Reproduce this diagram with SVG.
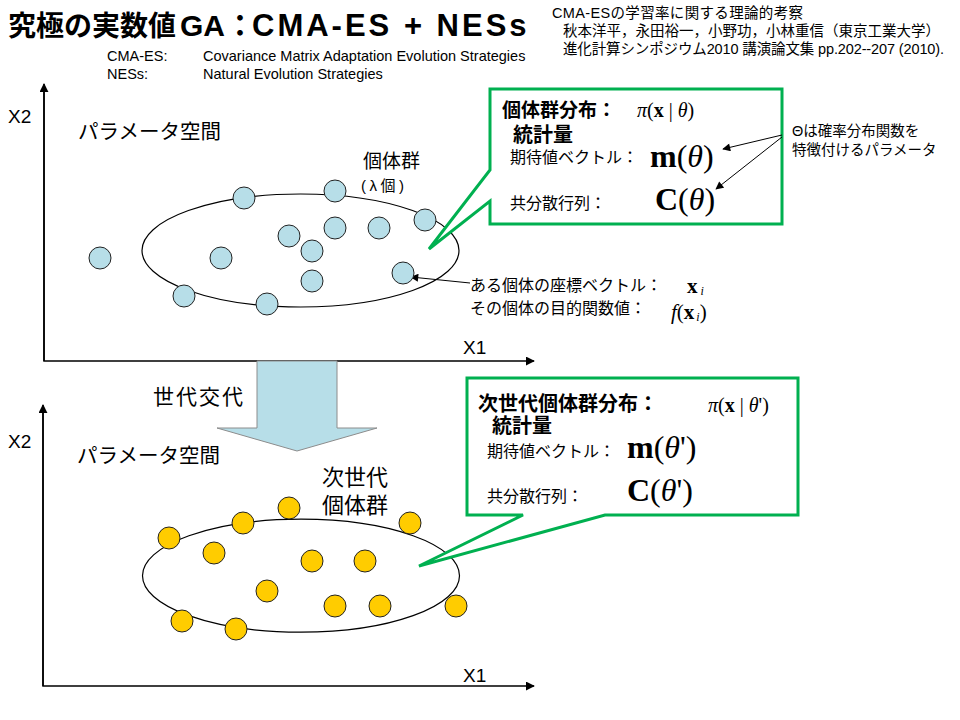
<svg xmlns="http://www.w3.org/2000/svg" width="960" height="720" viewBox="0 0 960 720">
<defs>
<style>
.jp{font-family:"Liberation Sans","Noto Sans CJK JP",sans-serif;fill:#000}
.b{font-weight:bold}
.m{font-family:"Liberation Serif",serif;fill:#000}
.ax{stroke:#000;stroke-width:1.5;fill:none}
.ind{fill:#b7dee8;stroke:#222;stroke-width:1}
.nxt{fill:#ffcc00;stroke:#222;stroke-width:1}
.ell{fill:none;stroke:#000;stroke-width:1.2}
.call{fill:#fff;stroke:#00b050;stroke-width:3;stroke-linejoin:miter}
.thin{stroke:#000;stroke-width:1;fill:none}
</style>
<marker id="ah" viewBox="0 0 10 10" refX="9" refY="5" markerWidth="9" markerHeight="9" markerUnits="userSpaceOnUse" orient="auto">
<path d="M0,0 L10,5 L0,10 Z" fill="#000"/>
</marker>
<marker id="ah2" viewBox="0 0 10 10" refX="9" refY="5" markerWidth="10" markerHeight="8" markerUnits="userSpaceOnUse" orient="auto">
<path d="M0,0 L10,5 L0,10 Z" fill="#000"/>
</marker>
</defs>
<rect width="960" height="720" fill="#fff"/>

<g id="title">
<text class="jp b" x="8" y="36" font-size="28">究極の実数値</text>
<text class="jp b" x="180" y="36" font-size="30">GA：</text>
<text class="jp b" x="252" y="36" font-size="31" letter-spacing="3">CMA-ES + NESs</text>
<text class="jp" x="107" y="61" font-size="14.5">CMA-ES:</text>
<text class="jp" x="203" y="61" font-size="14.5">Covariance Matrix Adaptation Evolution Strategies</text>
<text class="jp" x="107" y="79" font-size="14.5">NESs:</text>
<text class="jp" x="203" y="79" font-size="14.5">Natural Evolution Strategies</text>
</g>

<g id="citation">
<text class="jp" x="552" y="18" font-size="14.5" textLength="251" lengthAdjust="spacing">CMA-ESの学習率に関する理論的考察</text>
<text class="jp" x="563" y="36" font-size="14.5" textLength="377" lengthAdjust="spacing">秋本洋平，永田裕一，小野功，小林重信（東京工業大学）</text>
<text class="jp" x="563" y="54" font-size="14.5" textLength="381" lengthAdjust="spacing">進化計算シンポジウム2010 講演論文集 pp.202--207 (2010).</text>
</g>

<g id="connectors">
<polyline class="ax" points="44,88 44,361 534,361" marker-end="url(#ah)"/>
<line class="ax" x1="44" y1="361" x2="44" y2="84" marker-end="url(#ah)"/>
<polyline class="ax" points="43,409 43,686 534,686" marker-end="url(#ah)"/>
<line class="ax" x1="43" y1="686" x2="43" y2="405" marker-end="url(#ah)"/>
<line class="thin" x1="470" y1="283" x2="411" y2="277" marker-end="url(#ah2)"/>
</g>

<g id="generation-arrow">
<polygon points="257,361 337,361 337,428 377,428 297,451 217,428 257,428" fill="#b7dee8" stroke="#8c8c8c" stroke-width="1"/>
<text class="jp" x="153" y="404" font-size="21" letter-spacing="2">世代交代</text>
</g>

<g id="space-top">
<text class="jp" x="8" y="123" font-size="19">X2</text>
<text class="jp" x="463" y="354" font-size="19">X1</text>
<text class="jp" x="78" y="139" font-size="20.5">パラメータ空間</text>
<text class="jp" x="363" y="168" font-size="19">個体群</text>
<text class="jp" x="361" y="191" font-size="15" textLength="43" lengthAdjust="spacing">(λ個)</text>
<ellipse class="ell" cx="300.5" cy="250.5" rx="158.5" ry="56.5"/>
</g>

<g id="population-top">
<circle class="ind" cx="100" cy="258" r="11"/>
<circle class="ind" cx="244" cy="198" r="11"/>
<circle class="ind" cx="335" cy="191" r="11"/>
<circle class="ind" cx="289" cy="236" r="11"/>
<circle class="ind" cx="335" cy="228" r="11"/>
<circle class="ind" cx="379" cy="228" r="11"/>
<circle class="ind" cx="425" cy="220" r="11"/>
<circle class="ind" cx="312" cy="251" r="11"/>
<circle class="ind" cx="221" cy="258" r="11"/>
<circle class="ind" cx="312" cy="281" r="11"/>
<circle class="ind" cx="403" cy="273" r="11"/>
<circle class="ind" cx="184" cy="296" r="11"/>
<circle class="ind" cx="267" cy="304" r="11"/>
</g>

<g id="individual-label">
<text class="jp" x="470" y="291" font-size="16">ある個体の座標ベクトル：</text>
<text class="m" x="687" y="293" font-size="21" font-weight="bold">x<tspan font-size="12" font-style="italic" font-weight="normal" dx="3" dy="2">i</tspan></text>
<text class="jp" x="470" y="314" font-size="16">その個体の目的関数値：</text>
<text class="m" x="671" y="319" font-size="21"><tspan font-style="italic">f</tspan>(<tspan font-weight="bold">x</tspan><tspan font-size="12" font-style="italic" dx="2" dy="2">i</tspan><tspan dy="-2">)</tspan></text>
</g>

<g id="callout-top">
<path class="call" d="M490,89 H782 V224 H490 V201 L429,249 L490,170 Z"/>
<text class="jp b" x="502" y="117" font-size="19">個体群分布：</text>
<text class="m" x="637" y="117" font-size="20"><tspan font-style="italic">π</tspan>(<tspan font-weight="bold">x</tspan> | <tspan font-style="italic">θ</tspan>)</text>
<text class="jp b" x="513" y="142" font-size="20">統計量</text>
<text class="jp" x="510" y="163" font-size="16">期待値ベクトル：</text>
<text class="m" x="650" y="167" font-size="32"><tspan font-weight="bold">m</tspan>(<tspan font-style="italic">θ</tspan>)</text>
<text class="jp" x="510" y="209" font-size="16">共分散行列：</text>
<text class="m" x="655" y="210" font-size="32"><tspan font-weight="bold">C</tspan>(<tspan font-style="italic">θ</tspan>)</text>
</g>

<g id="theta-note">
<text class="jp" x="792" y="136" font-size="14.5">Θは確率分布関数を</text>
<text class="jp" x="792" y="155" font-size="14.5">特徴付けるパラメータ</text>
</g>

<g id="theta-connectors">
<line class="thin" x1="782" y1="135" x2="723" y2="149" marker-end="url(#ah2)"/>
<line class="thin" x1="782" y1="137" x2="716" y2="189" marker-end="url(#ah2)"/>
</g>

<g id="space-bottom">
<text class="jp" x="8" y="448" font-size="19">X2</text>
<text class="jp" x="463" y="682" font-size="19">X1</text>
<text class="jp" x="77" y="463" font-size="20.5">パラメータ空間</text>
<text class="jp" x="322" y="485" font-size="22">次世代</text>
<text class="jp" x="322" y="513" font-size="22">個体群</text>
<ellipse class="ell" cx="301" cy="575.7" rx="158.5" ry="56.5"/>
</g>

<g id="population-bottom">
<circle class="nxt" cx="289" cy="508" r="11"/>
<circle class="nxt" cx="243" cy="523" r="11"/>
<circle class="nxt" cx="169" cy="538" r="11"/>
<circle class="nxt" cx="410" cy="523" r="11"/>
<circle class="nxt" cx="214" cy="553" r="11"/>
<circle class="nxt" cx="312" cy="561" r="11"/>
<circle class="nxt" cx="365" cy="561" r="11"/>
<circle class="nxt" cx="267" cy="591" r="11"/>
<circle class="nxt" cx="335" cy="606" r="11"/>
<circle class="nxt" cx="380" cy="606" r="11"/>
<circle class="nxt" cx="456" cy="606" r="11"/>
<circle class="nxt" cx="182" cy="621" r="11"/>
<circle class="nxt" cx="236" cy="629" r="11"/>
</g>

<g id="callout-bottom">
<path class="call" d="M467,378 H798 V515 H605 L419,566 L523,515 H467 Z"/>
<text class="jp b" x="478" y="411" font-size="20">次世代個体群分布：</text>
<text class="m" x="708" y="412" font-size="20"><tspan font-style="italic">π</tspan>(<tspan font-weight="bold">x</tspan> | <tspan font-style="italic">θ</tspan>')</text>
<text class="jp b" x="492" y="433" font-size="20">統計量</text>
<text class="jp" x="487" y="457" font-size="16">期待値ベクトル：</text>
<text class="m" x="627" y="458" font-size="32"><tspan font-weight="bold">m</tspan>(<tspan font-style="italic">θ</tspan>')</text>
<text class="jp" x="487" y="502" font-size="16">共分散行列：</text>
<text class="m" x="627" y="501" font-size="32"><tspan font-weight="bold">C</tspan>(<tspan font-style="italic">θ</tspan>')</text>
</g>
</svg>
